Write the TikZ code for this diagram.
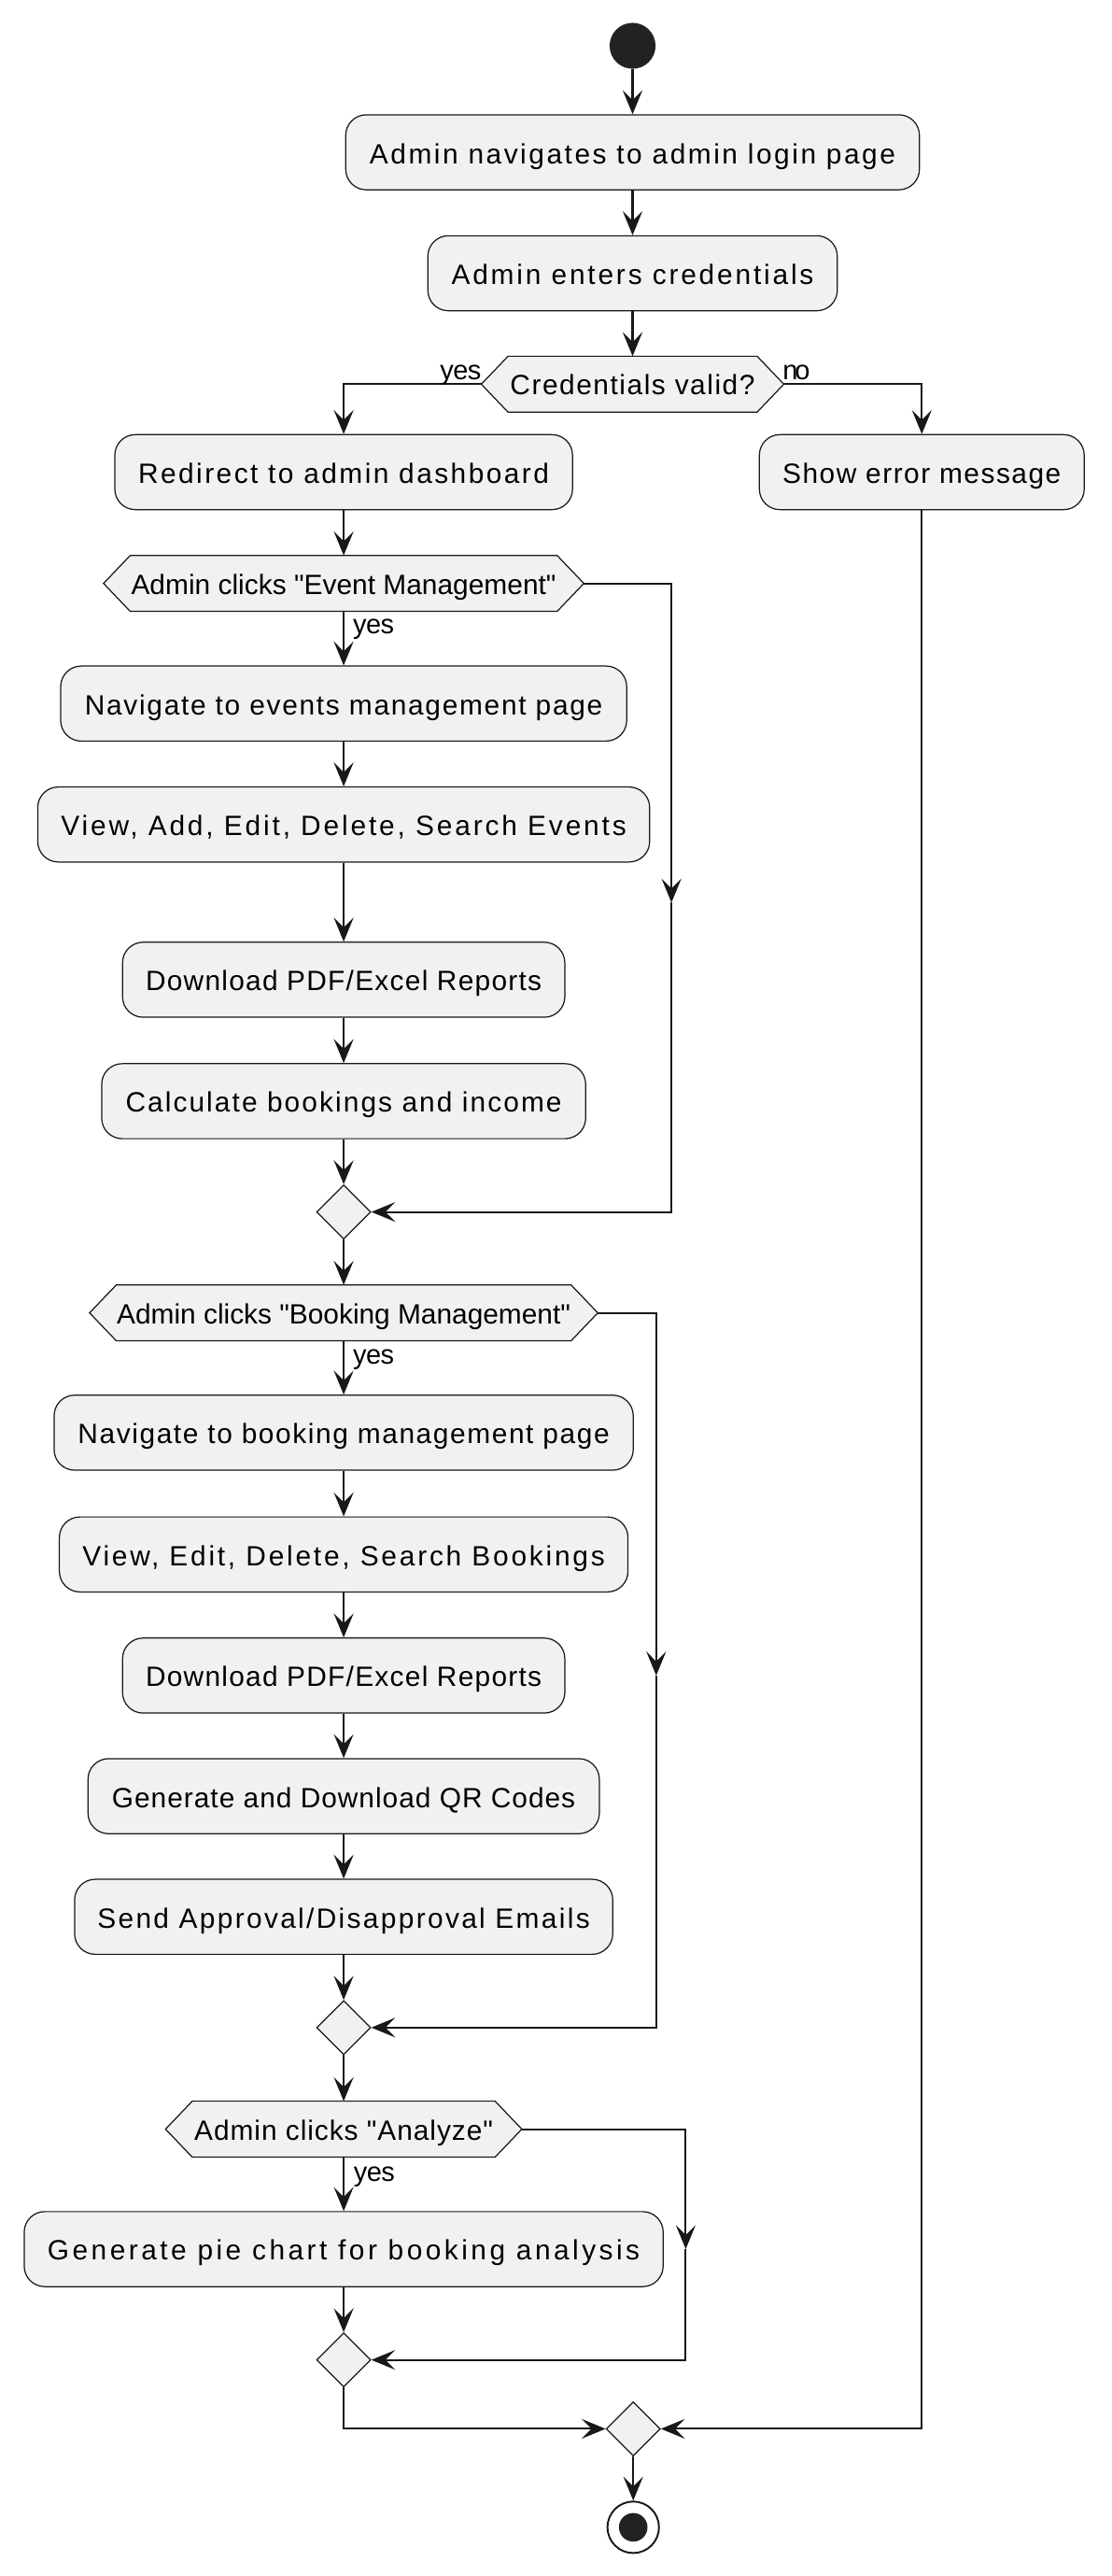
\documentclass[tikz,border=0pt]{standalone}
\usepackage{fontspec}
\newfontfamily\basefont{Liberation Sans}
\usetikzlibrary{arrows.meta,shapes.geometric}
\pgfdeclarelayer{background}
\pgfsetlayers{background,main}
\definecolor{bfill}{HTML}{F1F1F1}
\definecolor{ink}{HTML}{181818}
\definecolor{dot}{HTML}{222222}
% set #2 with the letter spacing that makes it #1 pt wide
\newcommand\fitw[2]{%
  \setbox0=\hbox{\addfontfeatures{LetterSpace=0}#2}%
  \setbox2=\hbox{\addfontfeatures{LetterSpace=10}#2}%
  \pgfmathsetmacro\lsval{10*(#1-\the\wd0)/(\the\wd2-\the\wd0)}%
  \edef\lsdo{\noexpand\addfontfeatures{LetterSpace=\lsval}}%
  \lsdo#2}
\begin{document}
\begin{tikzpicture}[x=1pt,y=-1pt,
 act/.style={draw=ink, fill=bfill, line width=0.7pt, rounded corners=12.5pt, minimum height=45.7pt, inner sep=0pt, text height=13.6pt, text depth=0pt, font=\basefont\fontsize{17}{20}\selectfont, text=black},
 hexbox/.style={minimum height=33.7pt, inner sep=0pt, text height=13pt, text depth=0pt, font=\basefont\fontsize{17}{20}\selectfont, text=black},
 hexline/.style={draw=ink, fill=bfill, line width=0.7pt},
 merge/.style={diamond, draw=ink, fill=bfill, line width=0.7pt, minimum width=33pt, minimum height=33pt, inner sep=0pt, shape aspect=1},
 arr/.style={draw=ink, line width=1.2pt, -{Stealth[length=14.6pt,width=12pt,inset=6pt]}},
 lbl/.style={inner sep=0pt, font=\basefont\fontsize{16.5}{19}\selectfont, text=black}
]
\useasboundingbox (0,0) rectangle (677.3,1569.7);
% nodes
\node[circle, fill=dot, minimum size=28pt, inner sep=0pt] (start) at (385.6,27.9) {};
\node[act, minimum width=349.7pt] (a1) at (385.6,92.8) {\fitw{320.5}{Admin navigates to admin login page}};
\node[act, minimum width=249.6pt] (a2) at (385.6,166.5) {\fitw{220.8}{Admin enters credentials}};
\node[hexbox, minimum width=184pt] (hc) at (385.6,234.1) {\fitw{149.2}{Credentials valid?}};
\node[act, minimum width=279pt] (rd) at (209.5,287.7) {\fitw{250.4}{Redirect to admin dashboard}};
\node[act, minimum width=198pt] (er) at (561.9,287.7) {\fitw{169.7}{Show error message}};
\node[hexbox, minimum width=292.4pt] (he) at (209.5,355.5) {\fitw{259}{Admin clicks "Event Management"}};
\node[act, minimum width=345pt] (ne) at (209.5,428.7) {\fitw{315.6}{Navigate to events management page}};
\node[act, minimum width=373pt] (ve) at (209.5,502.4) {\fitw{344.6}{View, Add, Edit, Delete, Search Events}};
\node[act, minimum width=269.6pt] (de) at (209.5,597) {\fitw{241.4}{Download PDF/Excel Reports}};
\node[act, minimum width=295pt] (ce) at (209.5,671) {\fitw{265.9}{Calculate bookings and income}};
\node[merge] (m1) at (209.5,738.5) {};
\node[hexbox, minimum width=309.4pt] (hb) at (209.5,800) {\fitw{276.5}{Admin clicks "Booking Management"}};
\node[act, minimum width=353pt] (nb) at (209.5,873) {\fitw{324}{Navigate to booking management page}};
\node[act, minimum width=346.6pt] (vb) at (209.5,947.2) {\fitw{318.4}{View, Edit, Delete, Search Bookings}};
\node[act, minimum width=269.6pt] (db) at (209.5,1021) {\fitw{241.4}{Download PDF/Excel Reports}};
\node[act, minimum width=311.7pt] (qr) at (209.5,1094.5) {\fitw{282.5}{Generate and Download QR Codes}};
\node[act, minimum width=328pt] (se) at (209.5,1168) {\fitw{300.2}{Send Approval/Disapproval Emails}};
\node[merge] (m2) at (209.5,1235.5) {};
\node[hexbox, minimum width=216.8pt] (ha) at (209.5,1297.4) {\fitw{182}{Admin clicks "Analyze"}};
\node[act, minimum width=389.5pt] (pc) at (209.5,1370.5) {\fitw{361}{Generate pie chart for booking analysis}};
\node[merge] (m3) at (209.5,1438) {};
\node[merge] (mf) at (386,1480) {};
\node[circle, draw=ink, line width=1.1pt, fill=white, minimum size=31.4pt, inner sep=0pt] (end) at (386,1540) {};
\node[circle, fill=dot, minimum size=17.4pt, inner sep=0pt] (endin) at (end.center) {};
% hexagon outlines behind the condition texts
\begin{pgfonlayer}{background}
\foreach \n in {hc,he,hb,ha}{
  \path[hexline] (\n.west) -- ([xshift=16.3pt]\n.north west) -- ([xshift=-16.3pt]\n.north east)
    -- (\n.east) -- ([xshift=-16.3pt]\n.south east) -- ([xshift=16.3pt]\n.south west) -- cycle;
}
\end{pgfonlayer}
% free bend points on the skip branches
\coordinate (ea) at (409.3,550);
\coordinate (ba) at (400,1021);
\coordinate (aa) at (418,1370.5);
% connectors
\draw[arr] (start) -- (a1);
\draw[arr] (a1) -- (a2);
\draw[arr] (a2) -- (hc);
\draw[arr] (hc.west) -| (rd.north);
\draw[arr] (hc.east) -| (er.north);
\draw[arr] (rd) -- (he);
\draw[arr] (he) -- (ne);
\draw[arr] (ne) -- (ve);
\draw[arr] (ve) -- (de);
\draw[arr] (de) -- (ce);
\draw[arr] (ce) -- (m1);
\draw[arr] (he.east) -| (ea);
\draw[arr] (ea) |- (m1.east);
\draw[arr] (m1) -- (hb);
\draw[arr] (hb) -- (nb);
\draw[arr] (nb) -- (vb);
\draw[arr] (vb) -- (db);
\draw[arr] (db) -- (qr);
\draw[arr] (qr) -- (se);
\draw[arr] (se) -- (m2);
\draw[arr] (hb.east) -| (ba);
\draw[arr] (ba) |- (m2.east);
\draw[arr] (m2) -- (ha);
\draw[arr] (ha) -- (pc);
\draw[arr] (pc) -- (m3);
\draw[arr] (ha.east) -| (aa);
\draw[arr] (aa) |- (m3.east);
\draw[arr] (m3.south) |- (mf.west);
\draw[arr] (er.south) |- (mf.east);
\draw[arr] (mf) -- (end);
% branch labels
\node[lbl, anchor=base east] (ly1) at (293.5,231.5) {\fitw{25}{yes}};
\node[lbl, anchor=base west] (ln1) at (477,231.5) {\fitw{16.5}{no}};
\node[lbl, anchor=base west] (ly2) at (215,386) {\fitw{25}{yes}};
\node[lbl, anchor=base west] (ly3) at (215,831.5) {\fitw{25}{yes}};
\node[lbl, anchor=base west] (ly4) at (215.5,1329) {\fitw{25}{yes}};
\end{tikzpicture}
\end{document}
